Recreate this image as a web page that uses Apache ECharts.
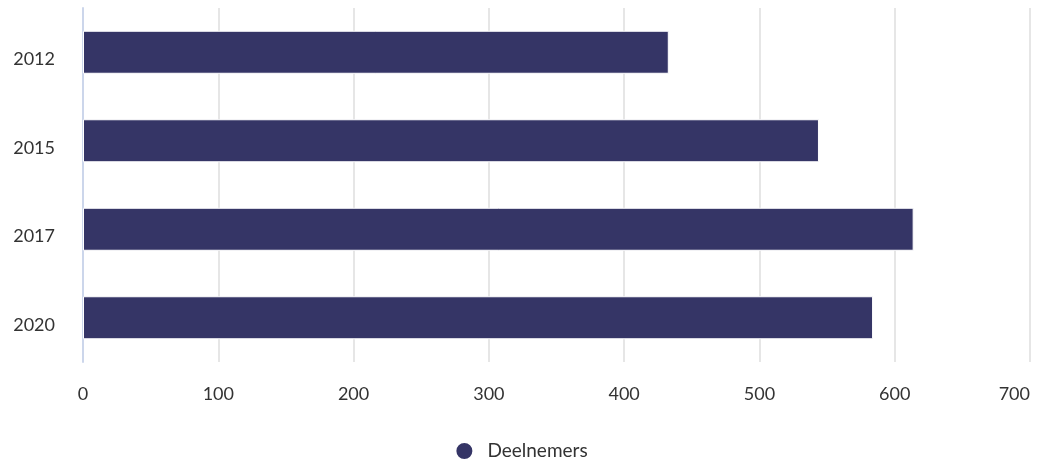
<!DOCTYPE html>
<html>
<head>
<meta charset="utf-8">
<script src="https://cdn.jsdelivr.net/npm/echarts@6/dist/echarts.min.js"></script>
<style>html,body{margin:0;padding:0;background:#fff}#c{width:1042px;height:469px}</style>
</head>
<body>
<div id="c"></div>
<script>
const categories = ['2012', '2015', '2017', '2020'];
const deelnemers = [433, 544, 614, 584];
const seriesName = 'Deelnemers';

const chart = echarts.init(document.getElementById('c'), null, {renderer: 'canvas'});
chart.setOption({
  animation: false,
  textStyle: {fontFamily: 'Lato'},
  grid: {left: 83, right: 12, top: 8, bottom: 107, containLabel: false, outerBoundsMode: 'none'},
  legend: {
    bottom: 3, left: 'center',
    data: [{name: seriesName, icon: 'circle'}],
    itemWidth: 18, itemHeight: 18, itemGap: 10,
    textStyle: {fontSize: 19, color: '#333', fontFamily: 'Lato', padding: [0, 0, 0, 9]}
  },
  xAxis: {
    type: 'value', min: 0, max: 700, interval: 100,
    axisLine: {show: false}, axisTick: {show: false},
    splitLine: {show: true, lineStyle: {color: '#e6e6e6', width: 2}},
    axisLabel: {fontSize: 18, color: '#333', margin: 23, alignMaxLabel: 'right'}
  },
  yAxis: {
    type: 'category', data: categories, inverse: true,
    axisLine: {show: true, lineStyle: {color: '#ccd6eb', width: 2}},
    axisTick: {show: false},
    axisLabel: {fontSize: 18, color: '#333', margin: 28, verticalAlign: 'top', lineHeight: 14}
  },
  series: [{
    name: seriesName, type: 'bar', data: deelnemers, barWidth: 43,
    itemStyle: {color: '#353566', borderColor: '#ffffff', borderWidth: 1}
  }]
});
</script>
</body>
</html>
